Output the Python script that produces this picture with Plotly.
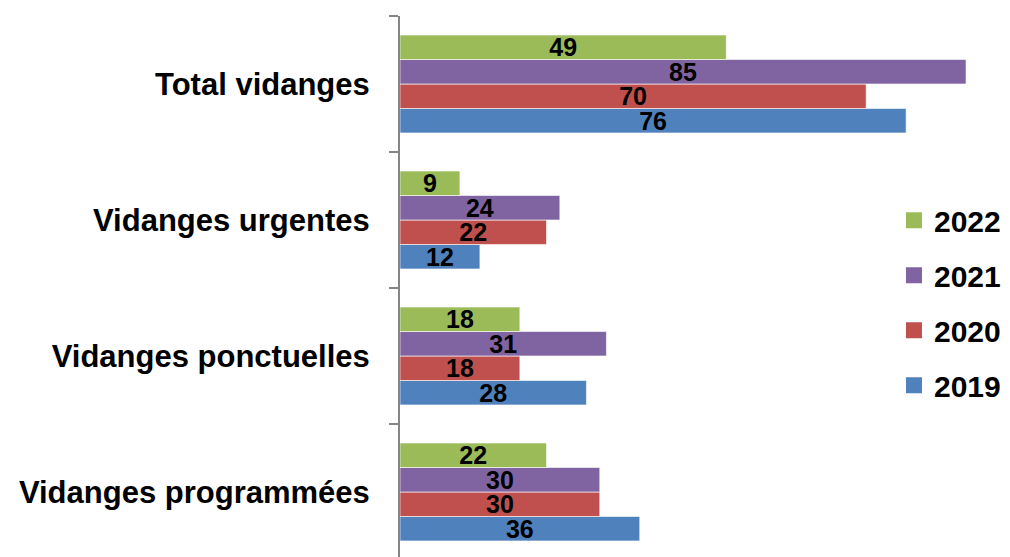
import plotly.graph_objects as go

categories = ["Vidanges programmées", "Vidanges ponctuelles", "Vidanges urgentes", "Total vidanges"]
v2019 = [36, 28, 12, 76]
v2020 = [30, 18, 22, 70]
v2021 = [30, 31, 24, 85]
v2022 = [22, 18, 9, 49]
series = [("2019", v2019, "#4F81BD", 4), ("2020", v2020, "#C0504D", 3),
          ("2021", v2021, "#8064A2", 2), ("2022", v2022, "#9BBB59", 1)]

fig = go.Figure()
for name, vals, col, rank in series:
    fig.add_trace(go.Bar(
        y=categories, x=vals, name=name, orientation="h",
        marker=dict(color=col, line=dict(color="white", width=0.6)),
        text=[str(v) for v in vals], textposition="inside", insidetextanchor="middle",
        textangle=0, constraintext="none",
        textfont=dict(family="Liberation Sans, Arial", size=25, color="black", weight="bold"),
        legendgroup=name, showlegend=False,
    ))
    # legend-only entry with a larger square swatch
    fig.add_trace(go.Scatter(
        x=[None], y=[None], mode="markers", name=name,
        marker=dict(symbol="square", size=16, color=col, line=dict(width=0)),
        legendgroup=name, legendrank=rank, showlegend=True, hoverinfo="skip",
    ))

# page body has an 8px margin: figure occupies screen 8..1010 x 8..557
fig.update_layout(
    width=1002, height=549,
    margin=dict(l=392, r=0, t=8, b=0),
    plot_bgcolor="white", paper_bgcolor="white",
    barmode="group", bargap=0.28, bargroupgap=0,
    showlegend=True,
    legend=dict(traceorder="grouped", tracegroupgap=13, itemsizing="trace",
                x=0.9934, y=0.47, xanchor="right", yanchor="middle",
                font=dict(family="Liberation Sans, Arial", size=30, color="black", weight="bold"),
                bgcolor="rgba(0,0,0,0)", borderwidth=0),
    xaxis=dict(range=[0, 91.6], visible=False, automargin=False),
    yaxis=dict(type="category", categoryorder="array", categoryarray=categories,
               range=[-0.478, 3.5], tickson="boundaries", ticks="outside", ticklen=9,
               tickwidth=2, tickcolor="#868686", showline=True, linecolor="#868686",
               linewidth=2, showgrid=False, ticklabelstandoff=22, automargin=False,
               tickfont=dict(family="Liberation Sans, Arial", size=31, color="black", weight="bold")),
)
fig.write_html("out.html")
